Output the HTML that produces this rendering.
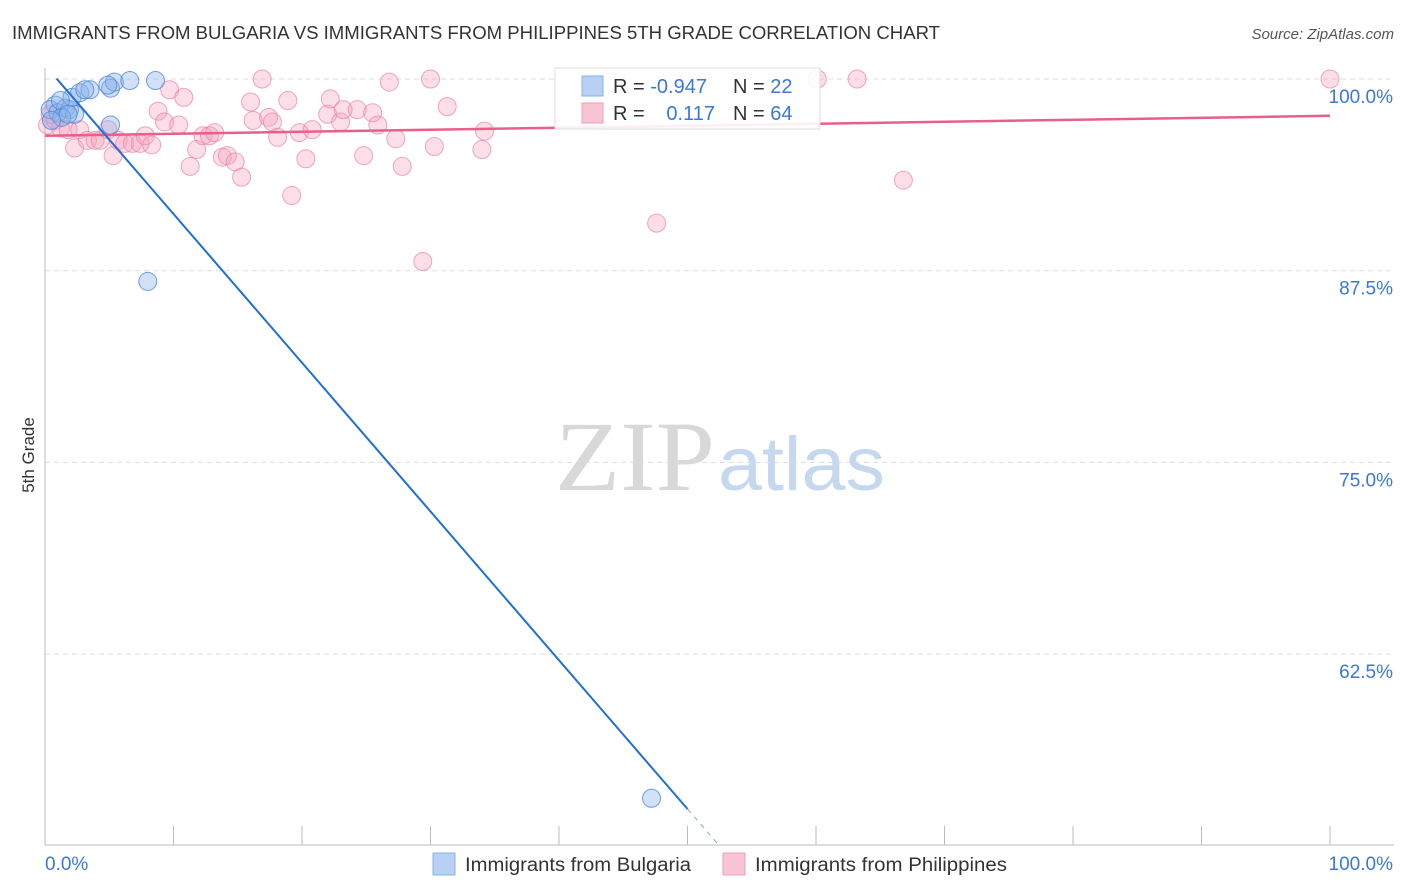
<!DOCTYPE html>
<html><head><meta charset="utf-8"><style>
body{margin:0;background:#fff;font-family:"Liberation Sans",sans-serif;}
#wrap{position:relative;width:1406px;height:892px;overflow:hidden;}
</style></head><body>
<div id="wrap">
<svg id="svg" width="1406" height="892" xmlns="http://www.w3.org/2000/svg">
<text x="12" y="39" font-size="18" fill="#333" textLength="928" lengthAdjust="spacingAndGlyphs">IMMIGRANTS FROM BULGARIA VS IMMIGRANTS FROM PHILIPPINES 5TH GRADE CORRELATION CHART</text>
<text x="1394" y="39" font-size="15" fill="#555" font-style="italic" text-anchor="end">Source: ZipAtlas.com</text>
<text x="34" y="455" font-size="17" fill="#333" text-anchor="middle" transform="rotate(-90 34 455)">5th Grade</text>
<g>
<text x="555" y="490" font-size="100" fill="#d8d8d8" font-family="Liberation Serif,serif" textLength="160" lengthAdjust="spacingAndGlyphs">ZIP</text>
<text x="718" y="490" font-size="76" fill="#c5d8ef" textLength="167" lengthAdjust="spacingAndGlyphs">atlas</text>
</g>
<g id="grid"></g><g id="axes"></g><g id="marks"></g>
<g>
<rect x="555" y="68" width="265" height="61" fill="#fff" fill-opacity="0.9" stroke="#ddd"/>
<rect x="582" y="76" width="21" height="20" fill="#b7d0f3" stroke="#8ab0e8"/>
<rect x="582" y="103" width="21" height="20" fill="#f9c5d5" stroke="#f0a0b8"/>
<text x="613" y="93" font-size="20" fill="#333">R = <tspan fill="#3b78d8">-0.947</tspan></text>
<text x="733" y="93" font-size="20" fill="#333">N = <tspan fill="#3b78d8">22</tspan></text>
<text x="613" y="120" font-size="20" fill="#333">R = </text>
<text x="715" y="120" font-size="20" fill="#3b78d8" text-anchor="end">0.117</text>
<text x="733" y="120" font-size="20" fill="#333">N = <tspan fill="#3b78d8">64</tspan></text>
</g>
<g>
<rect x="433" y="853" width="22" height="22" fill="#b7d0f3" stroke="#8ab0e8"/>
<text x="465" y="871" font-size="19" fill="#333" textLength="226" lengthAdjust="spacingAndGlyphs">Immigrants from Bulgaria</text>
<rect x="723" y="853" width="22" height="22" fill="#f9c5d5" stroke="#f0a0b8"/>
<text x="755" y="871" font-size="19" fill="#333" textLength="252" lengthAdjust="spacingAndGlyphs">Immigrants from Philippines</text>
</g>
</svg>
</div>
<script>
const blueX=[0.8,0.4,1.0,1.6,1.9,2.3,2.1,2.7,3.5,5.1,5.4,6.6,8.6,5.1,8.0,47.2,1.3,0.5,3.1,4.9,1.2,1.8];
const blueY=[98.3,98.0,97.8,98.1,98.0,97.7,98.8,99.1,99.3,99.4,99.8,99.9,99.9,97.0,86.8,53.1,97.5,97.3,99.3,99.6,98.6,97.7];
const pinkX=[0.2,0.4,0.8,1.2,1.8,2.3,2.7,3.3,3.9,4.3,4.9,5.3,5.7,6.2,6.8,7.4,7.8,8.3,8.8,9.3,9.7,10.4,10.8,11.3,11.8,12.3,12.8,13.2,13.8,14.2,14.8,15.3,16.0,16.2,16.9,17.4,17.7,18.1,18.9,19.2,19.8,20.3,20.8,22.0,22.2,23.0,23.2,24.3,24.8,25.5,25.9,26.8,27.3,27.8,29.4,30.0,30.3,31.3,34.0,34.2,47.6,60.1,63.2,66.8,100];
const pinkY=[97.0,97.7,97.3,96.8,96.7,95.5,96.7,96.0,96.0,96.0,96.7,95.0,96.0,95.8,95.8,95.8,96.3,95.7,97.9,97.2,99.3,97.0,98.8,94.3,95.4,96.3,96.3,96.5,94.9,95.0,94.6,93.6,98.5,97.3,100.0,97.5,97.2,96.2,98.6,92.4,96.5,94.8,96.7,97.7,98.7,97.2,98.0,98.0,95.0,97.8,97.0,99.8,96.1,94.3,88.1,100.0,95.6,98.2,95.4,96.6,90.6,100.0,100.0,93.4,100.0];
const blueTrend=[100.9,-0.97];
const pinkTrend=[96.3,0.013];
const yTicks=[100,87.5,75,62.5];
const yTickLabels=["100.0%","87.5%","75.0%","62.5%"];
const xTicks=[0,10,20,30,40,50,60,70,80,90,100];
const NS="http://www.w3.org/2000/svg";
const X0=45,X1=1330,YTOP=79,YBOT=845;
function sx(v){return X0+(v/100)*(X1-X0);}
function sy(v){return YTOP+(100-v)/12.5*191.7;}
function mk(tag,attrs,parent){const e=document.createElementNS(NS,tag);for(const k in attrs)e.setAttribute(k,attrs[k]);document.getElementById(parent).appendChild(e);return e;}
yTicks.forEach((t,i)=>{
 const l=mk('line',{x1:X0,x2:1394,y1:sy(t),y2:sy(t),stroke:'#ddd','stroke-dasharray':'5,4'},'grid');
 
 
 const tx=mk('text',{x:1393,y:sy(t)+24,'font-size':19,fill:'#3b78d8','text-anchor':'end'},'grid');
 tx.textContent=yTickLabels[i];
 
 
});
const ax=mk('line',{x1:X0,x2:1394,y1:YBOT,y2:YBOT,stroke:'#bbb'},'axes');


const ay=mk('line',{x1:X0,x2:X0,y1:68,y2:YBOT,stroke:'#bbb'},'axes');


xTicks.forEach(t=>{
 const l=mk('line',{x1:sx(t),x2:sx(t),y1:826,y2:YBOT,stroke:'#bbb'},'axes');
 
 
});
const xl0=mk('text',{x:45,y:870,'font-size':19,fill:'#3b78d8'},'axes');xl0.textContent='0.0%';


const xl1=mk('text',{x:1393,y:870,'font-size':19,fill:'#3b78d8','text-anchor':'end'},'axes');xl1.textContent='100.0%';


pinkX.forEach((x,i)=>{
 const c=mk('circle',{cx:sx(x),cy:sy(pinkY[i]),r:9,fill:'rgba(244,160,185,0.35)',stroke:'rgba(236,130,165,0.7)'},'marks');
 
 
});
blueX.forEach((x,i)=>{
 const c=mk('circle',{cx:sx(x),cy:sy(blueY[i]),r:9,fill:'rgba(140,180,235,0.4)',stroke:'rgba(80,135,215,0.8)'},'marks');
 
 
});
const pl=mk('line',{x1:sx(0),y1:sy(pinkTrend[0]),x2:sx(100),y2:sy(pinkTrend[0]+pinkTrend[1]*100),stroke:'#e8608a','stroke-width':2.5},'marks');


const bx0=0.9,bx1=50,bx2=(50-blueTrend[0])/blueTrend[1];
const bl=mk('line',{x1:sx(bx0),y1:sy(blueTrend[0]+blueTrend[1]*bx0),x2:sx(bx1),y2:sy(blueTrend[0]+blueTrend[1]*bx1),stroke:'#1f6fd6','stroke-width':2},'marks');


const bd=mk('line',{x1:sx(bx1),y1:sy(blueTrend[0]+blueTrend[1]*bx1),x2:sx(bx2),y2:sy(50),stroke:'#8aa8d8','stroke-width':1,'stroke-dasharray':'5,5'},'marks');


</script>
</body></html>
